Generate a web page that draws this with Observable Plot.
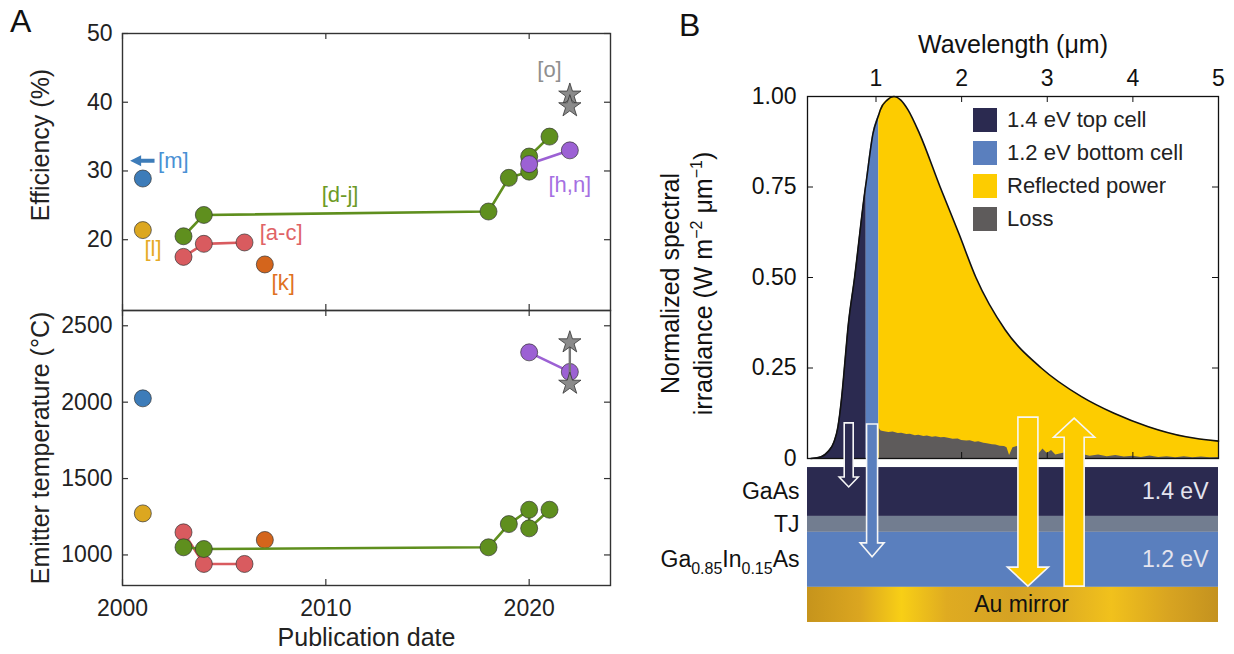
<!DOCTYPE html>
<html>
<head>
<meta charset="utf-8">
<script src="https://cdn.jsdelivr.net/npm/d3@7"></script>
<script src="https://cdn.jsdelivr.net/npm/@observablehq/plot@0.6"></script>
<style>
  html, body { margin: 0; padding: 0; background: #fff; }
  #root { position: relative; width: 1234px; height: 654px; overflow: hidden; font-family: "Liberation Sans", Arial, Helvetica, sans-serif; color: #222; }
  .letter { position: absolute; font-size: 32px; line-height: 37px; color: #111; }
  .lg-swatches { font-family: "Liberation Sans", Arial, sans-serif !important; font-size: 22px !important; color: #222; margin: 0 !important; }
  .lg-swatch { padding-bottom: 9px !important; height: 24px; line-height: 24px; }
  .lg-swatch > svg { margin-right: 10px !important; }
</style>
</head>
<body>
<svg width="0" height="0" style="position:absolute">
  <defs>
    <linearGradient id="auGrad" x1="0" x2="1" y1="0" y2="0">
      <stop offset="0" stop-color="#c6941c"/>
      <stop offset="0.13" stop-color="#dba620"/>
      <stop offset="0.23" stop-color="#f8cf16"/>
      <stop offset="0.34" stop-color="#dfab21"/>
      <stop offset="0.5" stop-color="#d5a223"/>
      <stop offset="0.62" stop-color="#dfad22"/>
      <stop offset="0.74" stop-color="#f1c11c"/>
      <stop offset="0.88" stop-color="#d8a421"/>
      <stop offset="1" stop-color="#c4921f"/>
    </linearGradient>
  </defs>
</svg>
<div id="root"></div>
<script>
// ================= DATA =================
// Panel A: publication year, efficiency (%), emitter temperature (°C)
const yearsAC = [2003, 2004, 2006];
const effAC   = [17.5, 19.4, 19.6];
const tempAC  = [1148, 941, 941];

const yearsDJ = [2003, 2004, 2018, 2019, 2020, 2020, 2021];
const effDJ   = [20.5, 23.6, 24.1, 29.0, 29.9, 32.1, 35.0];
const tempDJ  = [1050, 1039, 1050, 1202, 1296, 1174, 1296];

const yearsHN = [2020, 2022];
const effHN   = [31.0, 33.0];
const tempHN  = [2326, 2198];

const yearsK = [2007];
const effK   = [16.4];
const tempK  = [1098];

const yearsL = [2001];
const effL   = [21.4];
const tempL  = [1272];

const yearsM = [2001];
const effM   = [28.9];
const tempM  = [2025];

const yearsO = [2022, 2022];
const effO   = [41.1, 39.4];
const tempO  = [2391, 2120];

// off-scale indicator arrow for [m]: tail year, tip year, efficiency
const arrowMYears = [2001.6, 2000.4];
const arrowMEff = 31.4;

const refLabels    = ["[a-c]", "[d-j]", "[h,n]", "[k]", "[l]", "[m]", "[o]"];
const refLabelYear = [2007.8, 2010.7, 2022.0, 2007.9, 2001.5, 2002.5, 2021.0];
const refLabelEff  = [21.0, 26.5, 28.0, 13.7, 18.6, 31.4, 44.7];

const effTicks  = [20, 30, 40, 50];
const tempTicks = [1000, 1500, 2000, 2500];
const yearTicks = [2000, 2010, 2020];

// Panel B: normalized spectral irradiance vs wavelength (µm)
const specWl  = [0.24, 0.36, 0.44, 0.51, 0.556, 0.60, 0.636, 0.67, 0.75, 0.877, 0.886, 0.965, 1.033, 1.05, 1.13, 1.21, 1.29, 1.374, 1.507, 1.749, 1.97, 2.167, 2.51, 2.93, 3.40, 3.78, 4.18, 4.62, 5.00];
const specIrr = [0.000, 0.005, 0.019, 0.046, 0.088, 0.171, 0.264, 0.355, 0.500, 0.750, 0.765, 0.898, 0.950, 0.963, 0.990, 1.000, 0.990, 0.963, 0.898, 0.750, 0.620, 0.500, 0.355, 0.250, 0.171, 0.125, 0.088, 0.060, 0.048];

const lossWl  = [1.04, 1.06, 1.10, 1.15, 1.20, 1.26, 1.30, 1.36, 1.40, 1.46, 1.50, 1.56, 1.60, 1.66, 1.70, 1.76, 1.80, 1.86, 1.90, 1.96, 2.00, 2.06, 2.10, 2.16, 2.20, 2.26, 2.30, 2.36, 2.40, 2.45, 2.50, 2.53, 2.56, 2.60, 2.65, 2.70, 2.75, 2.80, 2.85, 2.90, 2.95, 3.00, 3.05, 3.10, 3.20, 3.30, 3.40, 3.50, 3.60, 3.70, 3.80, 3.90, 4.00, 4.10, 4.20, 4.30, 4.40, 4.50, 4.60, 4.70, 4.80, 4.90, 5.00];
const lossIrr = [0.082, 0.076, 0.074, 0.072, 0.073, 0.069, 0.070, 0.066, 0.067, 0.063, 0.064, 0.061, 0.062, 0.059, 0.060, 0.057, 0.058, 0.055, 0.053, 0.054, 0.050, 0.048, 0.049, 0.045, 0.046, 0.042, 0.041, 0.038, 0.037, 0.034, 0.033, 0.030, 0.008, 0.030, 0.033, 0.026, 0.029, 0.018, 0.022, 0.012, 0.026, 0.014, 0.022, 0.010, 0.015, 0.008, 0.012, 0.006, 0.010, 0.005, 0.008, 0.004, 0.006, 0.003, 0.007, 0.003, 0.005, 0.002, 0.005, 0.002, 0.004, 0.002, 0.003];

const topCellEdge = 0.886;    // µm, 1.4 eV band edge
const bottomCellEdge = 1.033; // µm, 1.2 eV band edge

const legendLabels = ["1.4 eV top cell", "1.2 eV bottom cell", "Reflected power", "Loss"];
const wlTicks  = [1, 2, 3, 4, 5];
const irrTicks = [0, 0.25, 0.5, 0.75, 1];

// device stack (diagram units on the irradiance axis, below 0)
const layerNames  = ["GaAs", "TJ", "Ga0.85In0.15As", "Au mirror"];
const layerTop    = [-0.025, -0.160, -0.204, -0.356];
const layerBottom = [-0.160, -0.204, -0.356, -0.453];
const layerGaps   = ["1.4 eV", "", "1.2 eV", ""];

// photon arrows: wavelength, start, end (irradiance-axis units)
const arrowWl   = [0.687, 0.96, 2.78, 3.32];
const arrowFrom = [0.097, 0.094, 0.113, -0.354];
const arrowTo   = [-0.080, -0.273, -0.354, 0.110];

// ================= STYLE =================
const FONT = '"Liberation Sans", Arial, Helvetica, sans-serif';
const NAVY = "#2b2a50", BLUE = "#5a7fbe", YELLOW = "#fdcc00", GRAY = "#5e5b5b", TJGRAY = "#727d90";
const colAC = "#d95b5f", colDJ = "#5f8f1e", colHN = "#9c61d4", colK = "#d4651c", colL = "#dca720", colM = "#3d7cb9", colO = "#8a8a8a";
const labelColors = ["#e06366", "#6d9a26", "#a570e2", "#e0711f", "#e6aa26", "#4a90d4", "#8f8f8f"];
const legendColors = [NAVY, BLUE, YELLOW, GRAY];
const layerColors = [NAVY, TJGRAY, BLUE, "url(#auGrad)"];
const arrowColors = [NAVY, BLUE, YELLOW, YELLOW];
const ARROW_SHAFT = [9, 11, 20, 20];
const ARROW_HEAD = [19, 24, 41, 41];
const ARROW_HEADLEN = [10, 14, 19, 19];

function arrowPath(x0, y0, x1, y1, shaft, head, headLen) {
  const dx = x1 - x0, dy = y1 - y0, L = Math.hypot(dx, dy);
  const ux = dx / L, uy = dy / L, nx = -uy, ny = ux;
  const bx = x1 - ux * headLen, by = y1 - uy * headLen;
  const s = shaft / 2, h = head / 2;
  const pts = [[x0 + nx*s, y0 + ny*s], [bx + nx*s, by + ny*s], [bx + nx*h, by + ny*h], [x1, y1],
               [bx - nx*h, by - ny*h], [bx - nx*s, by - ny*s], [x0 - nx*s, y0 - ny*s]];
  return "M" + pts.map(p => p[0].toFixed(2) + "," + p[1].toFixed(2)).join("L") + "Z";
}

const pts = (xs, ys) => xs.map((x, i) => ({x, y: ys[i]}));

// ================= PANEL A =================
const A_W = 640, A_ML = 122, A_MR = 30;
const A_FW = A_W - A_ML - A_MR;
const TICK = 6;

function seriesMarks(which) {
  const E = which === "eff";
  const S = [
    {xs: yearsM,  ys: E ? effM : tempM,   c: colM},
    {xs: yearsL,  ys: E ? effL : tempL,   c: colL},
    {xs: yearsAC, ys: E ? effAC : tempAC, c: colAC, line: true},
    {xs: yearsK,  ys: E ? effK : tempK,   c: colK},
    {xs: yearsDJ, ys: E ? effDJ : tempDJ, c: colDJ, line: true},
    {xs: yearsHN, ys: E ? effHN : tempHN, c: colHN, line: true}
  ];
  const marks = [];
  for (const s of S) {
    const d = pts(s.xs, s.ys);
    if (s.line) marks.push(Plot.line(d, {x: "x", y: "y", stroke: s.c, strokeWidth: 2.6}));
    marks.push(Plot.dot(d, {x: "x", y: "y", r: 8.5, fill: s.c, stroke: "#333", strokeWidth: 0.7}));
  }
  const o = pts(yearsO, E ? effO : tempO);
  if (!E) marks.push(Plot.line(o, {x: "x", y: "y", stroke: "#777", strokeWidth: 2.4}));
  marks.push(Plot.dot(o, {x: "x", y: "y", symbol: "star", r: 7, fill: colO, stroke: "#333", strokeWidth: 0.8}));
  return marks;
}

function frameTicks(yTicks, frameH) {
  return [
    Plot.ruleY(yTicks, {y: d => d, insetRight: A_FW - TICK, stroke: "#333", strokeWidth: 1.2}),
    Plot.ruleY(yTicks, {y: d => d, insetLeft: A_FW - TICK, stroke: "#333", strokeWidth: 1.2}),
    Plot.ruleX(yearTicks, {x: d => d, insetBottom: frameH - TICK, stroke: "#333", strokeWidth: 1.2}),
    Plot.ruleX(yearTicks, {x: d => d, insetTop: frameH - TICK, stroke: "#333", strokeWidth: 1.2}),
    Plot.frame({stroke: "#333", strokeWidth: 1.4})
  ];
}

const labelRows = refLabels.map((t, i) => ({t, x: refLabelYear[i], y: refLabelEff[i], c: labelColors[i]}));

const topA = Plot.plot({
  width: A_W, height: 310,
  marginLeft: A_ML, marginRight: A_MR, marginTop: 33, marginBottom: 0,
  x: {domain: [2000, 2024], axis: null},
  y: {domain: [9.7, 50], axis: null},
  style: {fontFamily: FONT, overflow: "visible", background: "transparent", color: "#222"},
  marks: [
    ...frameTicks(effTicks, 277),
    Plot.axisY({ticks: effTicks, tickSize: 0, tickPadding: 10, fontSize: 23, label: null, tickFormat: d => String(d)}),
    Plot.text(["Efficiency (%)"], {text: d => d, frameAnchor: "left", textAnchor: "middle", rotate: -90, dx: -82, dy: -27, fontSize: 25, fill: "#222"}),
    ...seriesMarks("eff"),
    Plot.text(labelRows, {x: "x", y: "y", text: "t", fill: "c", fontSize: 22}),
    (index, scales) => {
      const g = d3.create("svg:g");
      g.append("path")
        .attr("d", arrowPath(scales.x(arrowMYears[0]), scales.y(arrowMEff), scales.x(arrowMYears[1]), scales.y(arrowMEff), 4, 11, 11))
        .attr("fill", colM);
      return g.node();
    }
  ]
});

const botA = Plot.plot({
  width: A_W, height: 344,
  marginLeft: A_ML, marginRight: A_MR, marginTop: 0, marginBottom: 69,
  x: {domain: [2000, 2024], axis: null},
  y: {domain: [800, 2600], axis: null},
  style: {fontFamily: FONT, overflow: "visible", background: "transparent", color: "#222"},
  marks: [
    ...frameTicks(tempTicks, 275),
    Plot.axisY({ticks: tempTicks, tickSize: 0, tickPadding: 10, fontSize: 23, label: null, tickFormat: d => String(d)}),
    Plot.axisX({ticks: yearTicks, tickSize: 0, tickPadding: 14, fontSize: 23, label: null, tickFormat: d => String(d)}),
    Plot.text(["Emitter temperature (°C)"], {text: d => d, frameAnchor: "left", textAnchor: "middle", rotate: -90, dx: -82, fontSize: 25, fill: "#222"}),
    Plot.text(["Publication date"], {text: d => d, frameAnchor: "bottom", lineAnchor: "bottom", dy: 60, fontSize: 25, fill: "#222"}),
    ...seriesMarks("temp")
  ]
});

// ================= PANEL B =================
const B_W = 594, B_ML = 167, B_MR = 16, B_MT = 96, B_MB = 196;
const B_FW = B_W - B_ML - B_MR, B_FH = 654 - B_MT - B_MB;
const spec = specWl.map((w, i) => ({w, v: specIrr[i]}));
const loss = lossWl.map((w, i) => ({w, v: lossIrr[i]}));
const layers = layerNames.map((n, i) => ({n, top: layerTop[i], bottom: layerBottom[i], fill: layerColors[i], gap: layerGaps[i], mid: (layerTop[i] + layerBottom[i]) / 2}));
const xDom = [0.2, 5];

const plotB = Plot.plot({
  width: B_W, height: 654,
  marginLeft: B_ML, marginRight: B_MR, marginTop: B_MT, marginBottom: B_MB,
  x: {domain: xDom, axis: null},
  y: {domain: [0, 1], axis: null},
  color: {type: "identity"},
  style: {fontFamily: FONT, overflow: "visible", background: "transparent", color: "#111"},
  marks: [
    Plot.areaY(spec.filter(d => d.w <= topCellEdge), {x: "w", y: "v", curve: "monotone-x", fill: NAVY}),
    Plot.areaY(spec.filter(d => d.w >= topCellEdge && d.w <= bottomCellEdge), {x: "w", y: "v", curve: "monotone-x", fill: BLUE}),
    Plot.areaY(spec.filter(d => d.w >= bottomCellEdge), {x: "w", y: "v", curve: "monotone-x", fill: YELLOW}),
    Plot.areaY(loss, {x: "w", y: "v", curve: "linear", fill: GRAY}),
    Plot.line(spec, {x: "w", y: "v", curve: "monotone-x", stroke: "#111", strokeWidth: 1.6}),
    Plot.frame({stroke: "#111", strokeWidth: 1.3}),
    Plot.ruleY(irrTicks.slice(1, 4), {y: d => d, insetRight: B_FW - TICK, stroke: "#111"}),
    Plot.ruleY(irrTicks.slice(1, 4), {y: d => d, insetLeft: B_FW - TICK, stroke: "#111"}),
    Plot.ruleX(wlTicks.slice(0, 4), {x: d => d, insetBottom: B_FH - TICK, stroke: "#111"}),
    Plot.ruleX(wlTicks.slice(0, 4), {x: d => d, insetTop: B_FH - TICK, stroke: "#111"}),
    Plot.axisX({anchor: "top", ticks: wlTicks, tickSize: 0, tickPadding: 11, fontSize: 23, label: null, tickFormat: d => String(d)}),
    Plot.axisY({ticks: irrTicks, tickSize: 0, tickPadding: 11, fontSize: 23, label: null, tickFormat: d => d === 0 ? "0" : d.toFixed(2)}),
    Plot.text(["Wavelength (μm)"], {text: d => d, frameAnchor: "top", lineAnchor: "bottom", dy: -44, fontSize: 25, fill: "#111"}),
    Plot.text(["Normalized spectral"], {text: d => d, frameAnchor: "left", textAnchor: "middle", rotate: -90, dx: -137, dy: 6, fontSize: 25, fill: "#111"}),
    Plot.text(["irradiance (W m-2 μm-1)"], {text: d => d, frameAnchor: "left", textAnchor: "middle", rotate: -90, dx: -104, dy: 6, fontSize: 25, fill: "#111"}),
    // device stack
    Plot.rect(layers, {x1: () => xDom[0], x2: () => xDom[1], y1: "top", y2: "bottom", fill: "fill"}),
    Plot.text(layers.filter(d => d.n !== "Au mirror"), {x: () => xDom[0], y: "mid", text: "n", textAnchor: "end", dx: -8, fontSize: 23, fill: "#111"}),
    Plot.text(layers.filter(d => d.gap), {x: () => xDom[1], y: "mid", text: "gap", textAnchor: "end", dx: -10, fontSize: 23, fill: "#e4e4ee"}),
    Plot.text(layers.filter(d => d.n === "Au mirror"), {x: () => 2.7, y: "mid", text: "n", fontSize: 23, fill: "#111"}),
    // photon arrows
    (index, scales) => {
      const g = d3.create("svg:g");
      arrowWl.forEach((w, i) => {
        const cx = scales.x(w);
        g.append("path")
          .attr("d", arrowPath(cx, scales.y(arrowFrom[i]), cx, scales.y(arrowTo[i]), ARROW_SHAFT[i], ARROW_HEAD[i], ARROW_HEADLEN[i]))
          .attr("fill", arrowColors[i])
          .attr("stroke", "#f6f6f6")
          .attr("stroke-width", 1.6)
          .attr("stroke-linejoin", "miter");
      });
      return g.node();
    }
  ]
});

// rich text: subscripts / superscripts
function richText(svg, plain, parts) {
  d3.select(svg).selectAll("text").filter(function() { return this.textContent === plain; }).each(function() {
    const t = d3.select(this);
    t.text(null);
    let shift = 0;
    for (const [str, kind] of parts) {
      const target = kind === "sub" ? 7 : kind === "sup" ? -10 : 0;
      const ts = t.append("tspan").text(str);
      if (target !== shift) ts.attr("dy", target - shift);
      if (kind) ts.attr("font-size", 16);
      shift = target;
    }
  });
}
richText(plotB, "Ga0.85In0.15As", [["Ga"], ["0.85", "sub"], ["In"], ["0.15", "sub"], ["As"]]);
richText(plotB, "irradiance (W m-2 μm-1)", [["irradiance (W m"], ["−2", "sup"], [" μm"], ["−1", "sup"], [")"]]);

const legend = Plot.legend({
  color: {type: "ordinal", domain: legendLabels, range: legendColors},
  legend: "swatches", columns: 1, swatchSize: 24, className: "lg"
});

// ================= LAYOUT =================
const root = document.getElementById("root");
function place(node, left, top) {
  node.style.position = "absolute";
  node.style.left = left + "px";
  node.style.top = top + "px";
  root.appendChild(node);
}
place(topA, 0, 0);
place(botA, 0, 310);
place(plotB, 640, 0);
place(legend, 973, 108);
const la = document.createElement("div"); la.className = "letter"; la.textContent = "A"; place(la, 10, 3);
const lb = document.createElement("div"); lb.className = "letter"; lb.textContent = "B"; place(lb, 679, 7);
</script>
</body>
</html>
